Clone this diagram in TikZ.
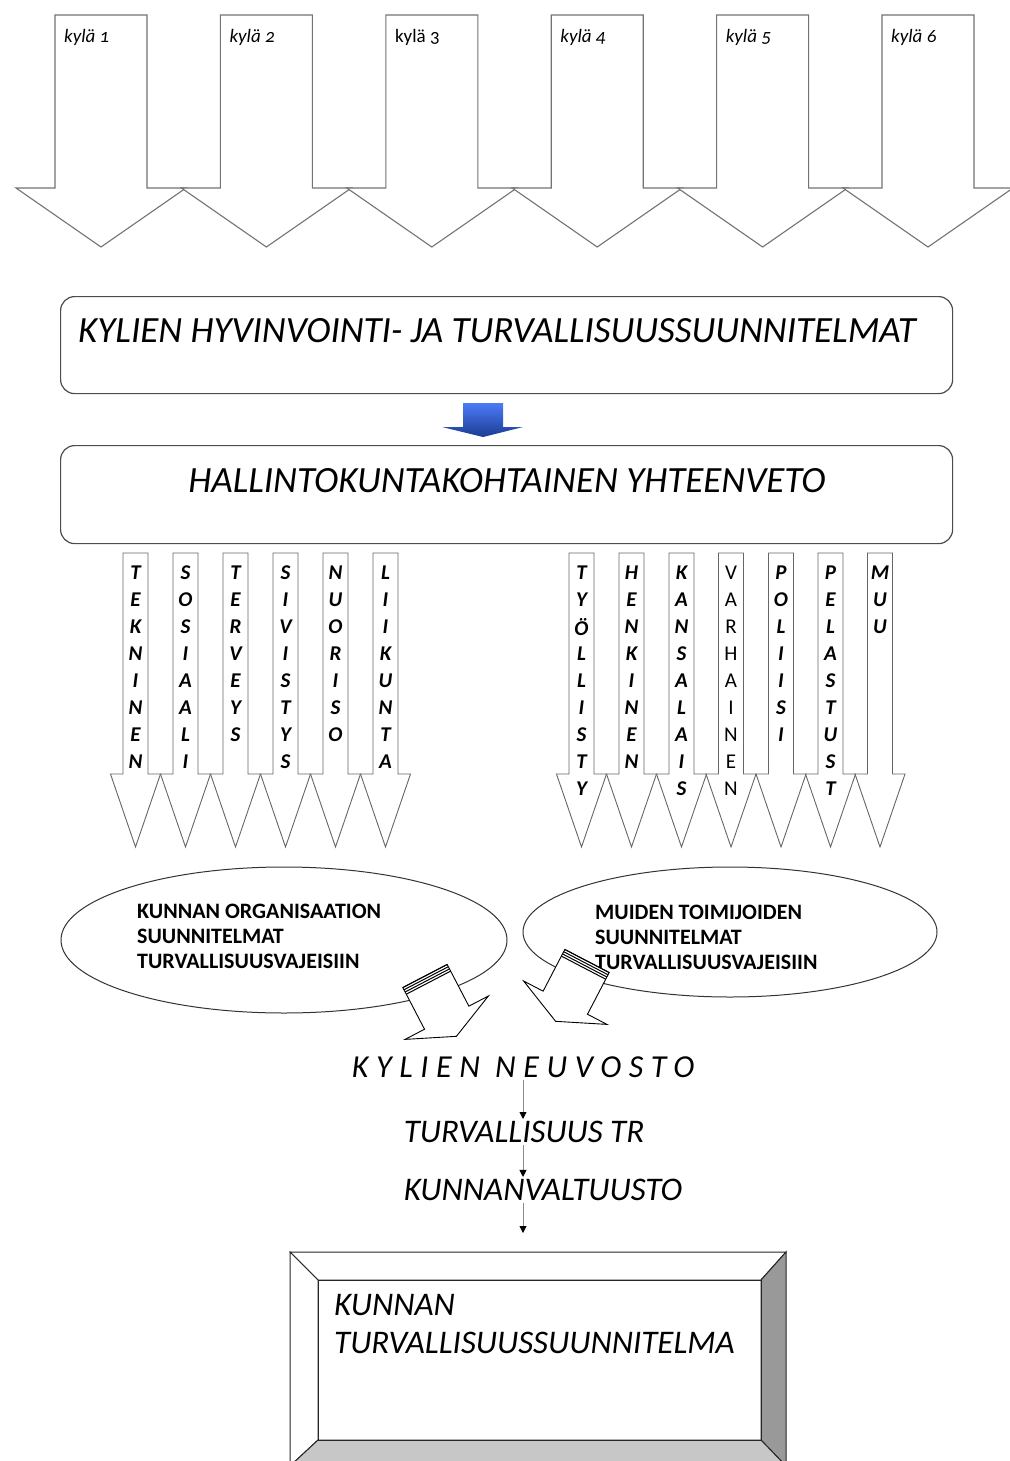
\documentclass[tikz,border=0pt]{standalone}
\usepackage{fontspec}
\setmainfont{Carlito}
\usetikzlibrary{shapes.geometric,arrows.meta}
\definecolor{arrowblue}{RGB}{45,100,245}

\tikzset{
  bigarrow/.style={draw=black!55,fill=white,line width=1.1pt},
  colarrow/.style={draw=black!60,fill=white,line width=0.9pt},
  colletter/.style={font=\fontsize{21}{21}\selectfont\bfseries\itshape,inner sep=0pt},
  kylatext/.style={font=\fontsize{19}{19}\selectfont\addfontfeatures{Numbers=OldStyle},anchor=west,inner sep=0pt},
  roundbox/.style={draw=black!70,rounded corners=14pt,line width=1.2pt,anchor=north west},
  boxtext/.style={font=\fontsize{37}{37}\selectfont\itshape,inner sep=0pt},
  oval/.style={ellipse,draw=black!80,line width=1pt},
  ovaltext/.style={font=\fontsize{22}{25}\selectfont\bfseries,align=left,anchor=north west,inner sep=0pt},
  steptext/.style={font=\fontsize{33}{33}\selectfont\itshape,inner sep=2pt},
  tiltarrow/.style={draw=black,fill=white,line width=0.9pt},
  thinarrow/.style={draw=black!45,line width=0.9pt,-{Triangle[length=7pt,width=7pt,color=black]}},
  bevel/.style={draw=black!85,line width=1pt},
  plantext/.style={font=\fontsize{33}{38}\selectfont\itshape,align=left,anchor=north west,inner sep=0pt},
}

\begin{document}
\begin{tikzpicture}[x=1pt,y=-1pt]
\useasboundingbox (0,0) rectangle (1009,1461);
% village arrows
\foreach \t [count=\i] in {\itshape kylä 1,\itshape kylä 2,kylä 3,\itshape kylä 4,\itshape kylä 5,\itshape kylä 6}{
  \pgfmathsetmacro\c{101+165.4*(\i-1)}
  \draw[bigarrow] (\c-46,15) -- (\c+46,15) -- (\c+46,188) -- (\c+85,188) -- (\c,247) -- (\c-85,188) -- (\c-46,188) -- cycle;
  \node[kylatext] (kyla\i) at (\c-37,37) {\t};
}

\node[roundbox,minimum width=892pt,minimum height=97pt] (plans) at (60,296) {};
\node[boxtext,anchor=west] (planstext) at (78,331) {KYLIEN HYVINVOINTI- JA TURVALLISUUSSUUNNITELMAT};
\shade[top color=arrowblue!85!white,bottom color=arrowblue!60!black] (463,403) -- (503,403) -- (503,427) -- (523,427) -- (483,437) -- (442,427) -- (463,427) -- cycle;
\node[roundbox,minimum width=892pt,minimum height=98pt] (summary) at (60,445) {};
\node[boxtext] (summarytext) at (507,481) {HALLINTOKUNTAKOHTAINEN YHTEENVETO};

% sector arrows, municipality
\foreach \c/\w [count=\i] in {135.5/{T,E,K,N,I,N,E,N},185.5/{S,O,S,I,A,A,L,I},235.5/{T,E,R,V,E,Y,S},285.5/{S,I,V,I,S,T,Y,S},335.5/{N,U,O,R,I,S,O},385.5/{L,I,I,K,U,N,T,A}}{
  \draw[colarrow] (\c-12.5,553) -- (\c+12.5,553) -- (\c+12.5,774) -- (\c+25,774) -- (\c,847) -- (\c-25,774) -- (\c-12.5,774) -- cycle;
  \foreach \l [count=\j] in \w
    \node[colletter] (L\i-\j) at (\c,546+27*\j) {\l};
}
% sector arrows, others
\foreach \c/\w/\f [count=\i] in {581.5/{T,Y,Ö,L,L,I,S,T,Y}/\relax,631.5/{H,E,N,K,I,N,E,N}/\relax,681.5/{K,A,N,S,A,L,A,I,S}/\relax,731/{V,A,R,H,A,I,N,E,N}/\upshape\mdseries,781/{P,O,L,I,I,S,I}/\relax,830.5/{P,E,L,A,S,T,U,S,T}/\relax,880/{M,U,U}/\relax}{
  \draw[colarrow] (\c-12.5,553) -- (\c+12.5,553) -- (\c+12.5,774) -- (\c+25,774) -- (\c,847) -- (\c-25,774) -- (\c-12.5,774) -- cycle;
  \foreach \l [count=\j] in \w
    \node[colletter] (R\i-\j) at (\c,546+27*\j) {\f\l};
}

\node[oval,minimum width=446pt,minimum height=146pt] (orgoval) at (284,940) {};
\node[ovaltext] (orgtext) at (137,904) {KUNNAN ORGANISAATION\\SUUNNITELMAT\\TURVALLISUUSVAJEISIIN};
\node[oval,minimum width=414pt,minimum height=130pt] (otheroval) at (730,932) {};
\node[ovaltext] (othertext) at (595,905) {MUIDEN TOIMIJOIDEN\\SUUNNITELMAT\\TURVALLISUUSVAJEISIIN};

\begin{scope}[shift={(425,976)},rotate=-62.5]
  \draw[tiltarrow] (0,-25) -- (47,-25) -- (47,-47) -- (68,0) -- (47,47) -- (47,25) -- (0,25) -- cycle;
  \foreach \u in {0,2.5,5,7.5} \draw[line width=1pt] (\u,-25) -- (\u,25);
\end{scope}
\begin{scope}[shift={(587,961)},rotate=-117.5]
  \draw[tiltarrow] (0,-25) -- (47,-25) -- (47,-47) -- (68,0) -- (47,47) -- (47,25) -- (0,25) -- cycle;
  \foreach \u in {0,2.5,5,7.5} \draw[line width=1pt] (\u,-25) -- (\u,25);
\end{scope}

\node[steptext,font=\fontsize{32}{32}\selectfont\itshape\addfontfeatures{LetterSpace=24}] (council) at (523,1067) {KYLIEN NEUVOSTO};
\node[steptext] (board) at (524,1132) {TURVALLISUUS TR};
\node[steptext] (assembly) at (543,1190) {KUNNANVALTUUSTO};

% bevelled plan box
\node[minimum width=496pt,minimum height=214pt,anchor=north west,inner sep=0pt,outer sep=0pt] (plan) at (290,1252) {};
\node[minimum width=443pt,minimum height=160pt,anchor=north west,inner sep=0pt,outer sep=0pt] (planin) at (318,1280) {};
\filldraw[bevel,fill=white] (plan.north west) -- (plan.north east) -- (planin.north east) -- (planin.north west) -- cycle;
\filldraw[bevel,fill=white] (plan.north west) -- (planin.north west) -- (planin.south west) -- (plan.south west) -- cycle;
\filldraw[bevel,fill=black!40] (plan.north east) -- (plan.south east) -- (planin.south east) -- (planin.north east) -- cycle;
\filldraw[bevel,fill=black!22] (plan.south west) -- (planin.south west) -- (planin.south east) -- (plan.south east) -- cycle;
\draw[bevel] (planin.north west) rectangle (planin.south east);
\node[plantext] (plantext) at (334,1294) {KUNNAN\\TURVALLISUUSSUUNNITELMA};

\draw[thinarrow] (council.south) -- (council.south |- board.north);
\draw[thinarrow] (council.south |- board.south) -- (council.south |- assembly.north);
\draw[thinarrow,shorten >=19pt] (council.south |- assembly.south) -- (council.south |- plan.north);
\end{tikzpicture}
\end{document}
